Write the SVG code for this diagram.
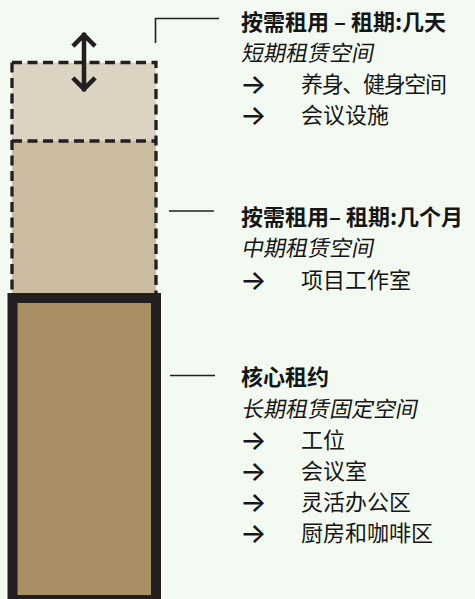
<svg xmlns="http://www.w3.org/2000/svg" width="475" height="599" viewBox="0 0 475 599">
<style>
text{font-family:"Noto Sans CJK SC","Noto Sans",sans-serif;font-size:22px;fill:#161616}
.h{font-weight:bold}
.a{font-family:Inter,"Noto Sans",sans-serif;font-size:28px;font-weight:500}
.lead{stroke:#231f20;stroke-width:1.6;fill:none}
.dash{stroke:#231f20;stroke-width:3.3;stroke-dasharray:10 5.5;fill:none}
</style>
<rect width="475" height="599" fill="#f3faf1"/>
<g id="tier-short">
<rect x="12" y="62.5" width="144" height="78.5" fill="#dcd3c2"/>
</g>
<g id="tier-mid">
<rect x="12" y="141" width="144" height="153" fill="#cbbca1"/>
</g>
<g id="dashes">
<path class="dash" d="M12 62.5H156V293M12 62.5V293M12 141H156"/>
</g>
<g id="tier-core">
<rect x="12.5" y="298" width="143.5" height="302" fill="#a88f64" stroke="#231f20" stroke-width="10"/>
</g>
<g id="flex-arrow">
<path d="M84 35V89M74.5 44.5L84 35L93.5 44.5M74.5 79.5L84 89L93.5 79.5" fill="none" stroke="#231f20" stroke-width="4.5" stroke-linecap="square"/>
</g>
<g id="connectors">
<path class="lead" d="M155.5 43V18.5H219"/>
<path class="lead" d="M169 211H214"/>
<path class="lead" d="M170 375.5H215"/>
</g>
<g id="label-short">
<text class="h" x="241" y="30">按需租用 – 租期:几天</text>
<text transform="translate(241,61) skewX(-11)">短期租赁空间</text>
<text class="a" x="240" y="94">→</text><text x="301" y="92" textLength="146" lengthAdjust="spacing">养身、健身空间</text>
<text class="a" x="240" y="125">→</text><text x="301" y="123">会议设施</text>
</g>
<g id="label-mid">
<text class="h" x="241" y="225">按需租用– 租期:几个月</text>
<text transform="translate(241,256) skewX(-11)">中期租赁空间</text>
<text class="a" x="240" y="290">→</text><text x="301" y="288">项目工作室</text>
</g>
<g id="label-core">
<text class="h" x="241" y="385">核心租约</text>
<text transform="translate(241,417) skewX(-11)">长期租赁固定空间</text>
<text class="a" x="240" y="450">→</text><text x="301" y="448">工位</text>
<text class="a" x="240" y="481">→</text><text x="301" y="479">会议室</text>
<text class="a" x="240" y="512">→</text><text x="301" y="510">灵活办公区</text>
<text class="a" x="240" y="543">→</text><text x="301" y="541">厨房和咖啡区</text>
</g>
</svg>
